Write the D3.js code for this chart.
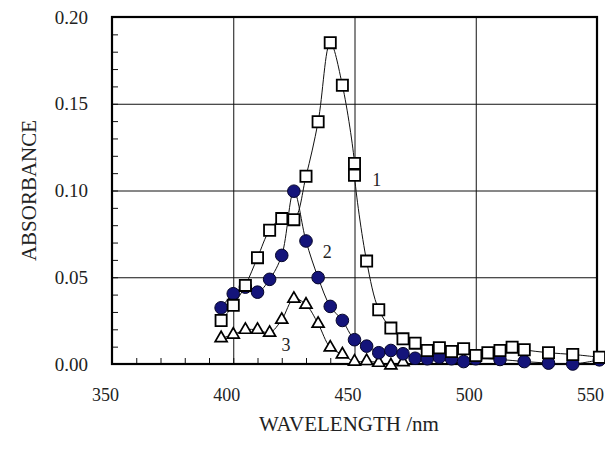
<!DOCTYPE html>
<html>
<head>
<meta charset="utf-8">
<script src="https://cdn.jsdelivr.net/npm/d3@7"></script>
<style>
  body { margin: 0; background: #fff; }
</style>
</head>
<body>
<div id="chart"></div>
<script>
// curve 1 (open squares)
const wl1 = [395, 400, 405, 410, 415, 420, 425, 430, 435, 440, 445, 450, 450, 455, 460, 465, 470, 475, 480, 485, 490, 495, 500, 505, 510, 515, 520, 530, 540, 551];
const abs1 = [0.0251, 0.0338, 0.0453, 0.0613, 0.0771, 0.0838, 0.0832, 0.1082, 0.1396, 0.1852, 0.1607, 0.1156, 0.1088, 0.0593, 0.0313, 0.0207, 0.0145, 0.0120, 0.0078, 0.0094, 0.0072, 0.0088, 0.0049, 0.0065, 0.0078, 0.0097, 0.0082, 0.0065, 0.0055, 0.0039];
// curve 2 (filled circles)
const wl2 = [395, 400, 405, 410, 415, 420, 425, 430, 435, 440, 445, 450, 455, 460, 465, 470, 475, 480, 485, 490, 495, 500, 510, 520, 530, 540, 551];
const abs2 = [0.0324, 0.0405, 0.0443, 0.0414, 0.0488, 0.0626, 0.0996, 0.0709, 0.0498, 0.0332, 0.0251, 0.0140, 0.0103, 0.0065, 0.0078, 0.0059, 0.0033, 0.0030, 0.0039, 0.0030, 0.0014, 0.0030, 0.0026, 0.0014, 0.0005, 0.0000, 0.0024];
// curve 3 (open triangles)
const wl3 = [395, 400, 405, 410, 415, 420, 425, 430, 435, 440, 445, 450, 455, 460, 465, 470];
const abs3 = [0.0149, 0.0169, 0.0197, 0.0197, 0.0180, 0.0255, 0.0376, 0.0342, 0.0232, 0.0095, 0.0055, 0.0014, 0.0017, 0.0007, -0.0008, 0.0010];

const curveNames = ["1", "2", "3"];
const nameWl = [459.2, 438.8, 421.8];
const nameAbs = [0.106, 0.0645, 0.0113];

const xTicks = [350, 400, 450, 500, 550];
const yTicks = [0.00, 0.05, 0.10, 0.15, 0.20];

const width = 605, height = 450;
const margin = {top: 17, right: 8, bottom: 86, left: 112};
const serif = '"Liberation Serif", "DejaVu Serif", "Times New Roman", serif';

const svg = d3.select("#chart").append("svg")
    .attr("width", width)
    .attr("height", height)
    .attr("font-family", serif);

const x = d3.scaleLinear().domain([350, 550]).range([margin.left, width - margin.right]);
const y = d3.scaleLinear().domain([0, 0.2]).range([height - margin.bottom, margin.top]);

// grid lines
svg.append("g")
    .attr("transform", `translate(0,${y(0)})`)
    .call(d3.axisBottom(x).tickValues([400, 450, 500]).tickSize(-(y(0) - y(0.2))).tickFormat(""))
    .call(g => g.select(".domain").remove())
    .selectAll("line").attr("stroke", "#111").attr("stroke-width", 1);
svg.append("g")
    .attr("transform", `translate(${x(350)},0)`)
    .call(d3.axisLeft(y).tickValues([0.05, 0.10, 0.15]).tickSize(-(x(550) - x(350))).tickFormat(""))
    .call(g => g.select(".domain").remove())
    .selectAll("line").attr("stroke", "#111").attr("stroke-width", 1);

// minor ticks (inside)
svg.append("g")
    .attr("transform", `translate(0,${y(0)})`)
    .call(d3.axisBottom(x).tickValues(d3.range(360, 550, 10)).tickSize(-6).tickFormat(""))
    .call(g => g.select(".domain").remove())
    .selectAll("line").attr("stroke", "#111");
svg.append("g")
    .attr("transform", `translate(${x(350)},0)`)
    .call(d3.axisLeft(y).tickValues(d3.range(1, 20).map(d => d / 100)).tickSize(-6).tickFormat(""))
    .call(g => g.select(".domain").remove())
    .selectAll("line").attr("stroke", "#111");

// tick labels
svg.append("g")
    .attr("transform", `translate(0,${y(0)})`)
    .call(d3.axisBottom(x).tickValues(xTicks).tickSize(0).tickPadding(24).tickFormat(d3.format("d")))
    .call(g => g.select(".domain").remove())
    .attr("font-family", serif)
    .selectAll("text")
    .attr("dx", -7)
    .attr("fill", "#222")
    .style("font-family", serif)
    .style("font-size", "18px");
svg.append("g")
    .attr("transform", `translate(${x(350)},0)`)
    .call(d3.axisLeft(y).tickValues(yTicks).tickSize(0).tickPadding(24).tickFormat(d3.format(".2f")))
    .call(g => g.select(".domain").remove())
    .attr("font-family", serif)
    .selectAll("text")
    .attr("fill", "#222")
    .style("font-family", serif)
    .style("font-size", "19px");

// frame
svg.append("rect")
    .attr("x", x(350)).attr("y", y(0.2))
    .attr("width", x(550) - x(350)).attr("height", y(0) - y(0.2))
    .attr("fill", "none").attr("stroke", "#000").attr("stroke-width", 2.2);

// axis titles
svg.append("text")
    .attr("transform", `translate(36,${(y(0) + y(0.2)) / 2}) rotate(-90)`)
    .attr("text-anchor", "middle")
    .attr("fill", "#222")
    .style("font-family", serif)
    .style("font-size", "21px")
    .text("ABSORBANCE");
svg.append("text")
    .attr("x", 349)
    .attr("y", 431)
    .attr("text-anchor", "middle")
    .attr("fill", "#222")
    .style("font-family", serif)
    .style("font-size", "21px")
    .text("WAVELENGTH /nm");

// lines
const line = d3.line()
    .x(d => x(d[0]))
    .y(d => y(d[1]))
    .curve(d3.curveCatmullRom.alpha(0.5));

const s1 = wl1.map((d, i) => [d, abs1[i]]);
const s2 = wl2.map((d, i) => [d, abs2[i]]);
const s3 = wl3.map((d, i) => [d, abs3[i]]);

[s1, s2, s3].forEach(s => {
    svg.append("path")
        .datum(s)
        .attr("d", line)
        .attr("fill", "none")
        .attr("stroke", "#111")
        .attr("stroke-width", 1);
});

// markers
svg.append("g").selectAll("path")
    .data(s3)
    .join("path")
    .attr("transform", d => `translate(${x(d[0])},${y(d[1])})`)
    .attr("d", d3.symbol().type(d3.symbolTriangle).size(62))
    .attr("fill", "#fff")
    .attr("stroke", "#000")
    .attr("stroke-width", 1.7);

svg.append("g").selectAll("circle")
    .data(s2)
    .join("circle")
    .attr("cx", d => x(d[0]))
    .attr("cy", d => y(d[1]))
    .attr("r", 6.3)
    .attr("fill", "#14147a")
    .attr("stroke", "#05052a")
    .attr("stroke-width", 1);

svg.append("g").selectAll("path")
    .data(s1)
    .join("path")
    .attr("transform", d => `translate(${x(d[0])},${y(d[1])})`)
    .attr("d", d3.symbol().type(d3.symbolSquare).size(125))
    .attr("fill", "#fff")
    .attr("stroke", "#000")
    .attr("stroke-width", 1.8);

// curve numbers
svg.append("g").selectAll("text")
    .data(curveNames)
    .join("text")
    .attr("x", (d, i) => x(nameWl[i]))
    .attr("y", (d, i) => y(nameAbs[i]))
    .attr("dy", "0.35em")
    .attr("text-anchor", "middle")
    .attr("fill", "#222")
    .style("font-family", serif)
    .style("font-size", "18px")
    .text(d => d);
</script>
</body>
</html>
